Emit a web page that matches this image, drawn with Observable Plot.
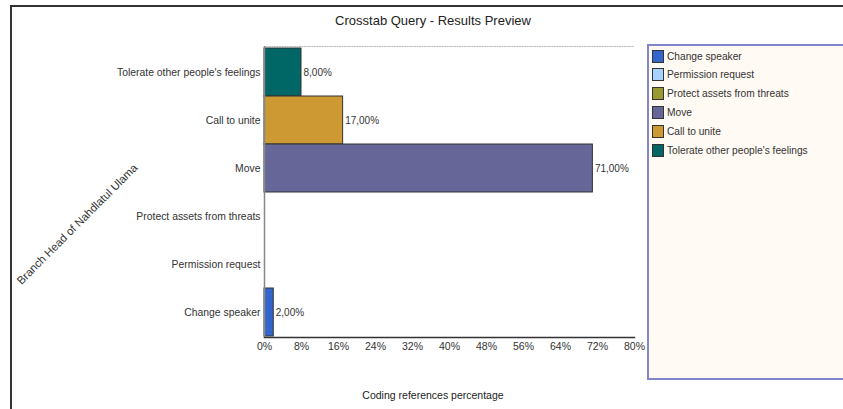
<!DOCTYPE html>
<html>
<head>
<meta charset="utf-8">
<script src="https://cdn.jsdelivr.net/npm/d3@7"></script>
<script src="https://cdn.jsdelivr.net/npm/@observablehq/plot@0.6"></script>
<style>
  html, body { margin: 0; padding: 0; background: #fff; }
  #wrap { position: relative; width: 843px; height: 409px; overflow: hidden; font-family: "Liberation Sans", Arial, sans-serif; }
  #frame { position: absolute; left: 10px; top: 5px; width: 840px; height: 410px; border-left: 2px solid #333; border-top: 2px solid #333; box-sizing: border-box; }
  #title { position: absolute; left: 0; width: 866px; top: 13px; text-align: center; font-size: 13px; color: #222; }
  #xtitle { position: absolute; left: 0; width: 866px; top: 389px; text-align: center; font-size: 10.5px; color: #222; }
  #ytitle { position: absolute; left: 77px; top: 224px; transform: translate(-50%, -50%) rotate(-45deg); white-space: nowrap; font-size: 11.3px; color: #333; }
  #legend { position: absolute; left: 647px; top: 44px; width: 210px; height: 336px; border: 2px solid #8585c9; background: #fffaf4; box-sizing: border-box; }
  .item { position: absolute; left: 3px; height: 14px; display: flex; align-items: center; font-size: 10.2px; color: #333; }
  .sw { width: 12px; height: 13px; border: 1px solid #333; box-sizing: border-box; margin-right: 3px; }
  #chart { position: absolute; left: 0; top: 0; }
</style>
</head>
<body>
<div id="wrap">
  <div id="frame"></div>
  <div id="title">Crosstab Query - Results Preview</div>
  <div id="chart"></div>
  <div id="xtitle">Coding references percentage</div>
  <div id="ytitle">Branch Head of Nahdlatul Ulama</div>
  <div id="legend"></div>
</div>
<script>
// Categories, top to bottom as drawn
const categories = [
  "Tolerate other people's feelings",
  "Call to unite",
  "Move",
  "Protect assets from threats",
  "Permission request",
  "Change speaker"
];
const values = [8, 17, 71, 0, 0, 2];
const colors = ["#006666", "#cc9933", "#666699", "#999933", "#a6d2ff", "#3366cc"];
// Legend order
const legendOrder = [
  "Change speaker",
  "Permission request",
  "Protect assets from threats",
  "Move",
  "Call to unite",
  "Tolerate other people's feelings"
];
const xTicks = [0, 8, 16, 24, 32, 40, 48, 56, 64, 72, 80];

const data = categories.map((c, i) => ({cat: c, value: values[i], color: colors[i]}));
const shown = data.filter(d => d.value > 0);
const fmt = v => v.toFixed(2).replace(".", ",") + "%";

const chart = Plot.plot({
  width: 843,
  height: 409,
  marginLeft: 264,
  marginRight: 209,
  marginTop: 46,
  marginBottom: 72,
  style: {fontFamily: "'Liberation Sans', Arial, sans-serif", fontSize: "10px", color: "#333", background: "transparent"},
  x: {domain: [0, 80], label: null},
  y: {domain: categories, padding: 0, label: null},
  marks: [
    Plot.frame({anchor: "top", stroke: "#bbb", strokeDasharray: "1,1.5", strokeWidth: 1}),
    Plot.barX(shown, {x: "value", y: "cat", fill: "color", stroke: "#333", strokeWidth: 1}),
    Plot.ruleX([0], {stroke: "#888", strokeWidth: 1.5}),
    Plot.text(shown, {x: "value", y: "cat", text: d => fmt(d.value), textAnchor: "start", dx: 2, fill: "#333", fontSize: 10}),
    Plot.axisY({tickSize: 0, tickPadding: 4, fill: "#333", fontSize: 10.4, label: null}),
    Plot.axisX({ticks: xTicks, tickFormat: d => d + "%", tickSize: 0, tickPadding: 5, fill: "#333", fontSize: 10.5, label: null}),
    Plot.frame({anchor: "bottom", stroke: "#333", strokeWidth: 1.5})
  ]
});
document.getElementById("chart").appendChild(chart);

const legend = document.getElementById("legend");
legendOrder.forEach((name, i) => {
  const c = colors[categories.indexOf(name)];
  const item = document.createElement("div");
  item.className = "item";
  item.style.top = (3 + i * 18.8) + "px";
  const sw = document.createElement("div");
  sw.className = "sw";
  sw.style.background = c;
  const t = document.createElement("span");
  t.textContent = name;
  item.appendChild(sw);
  item.appendChild(t);
  legend.appendChild(item);
});
</script>
</body>
</html>
